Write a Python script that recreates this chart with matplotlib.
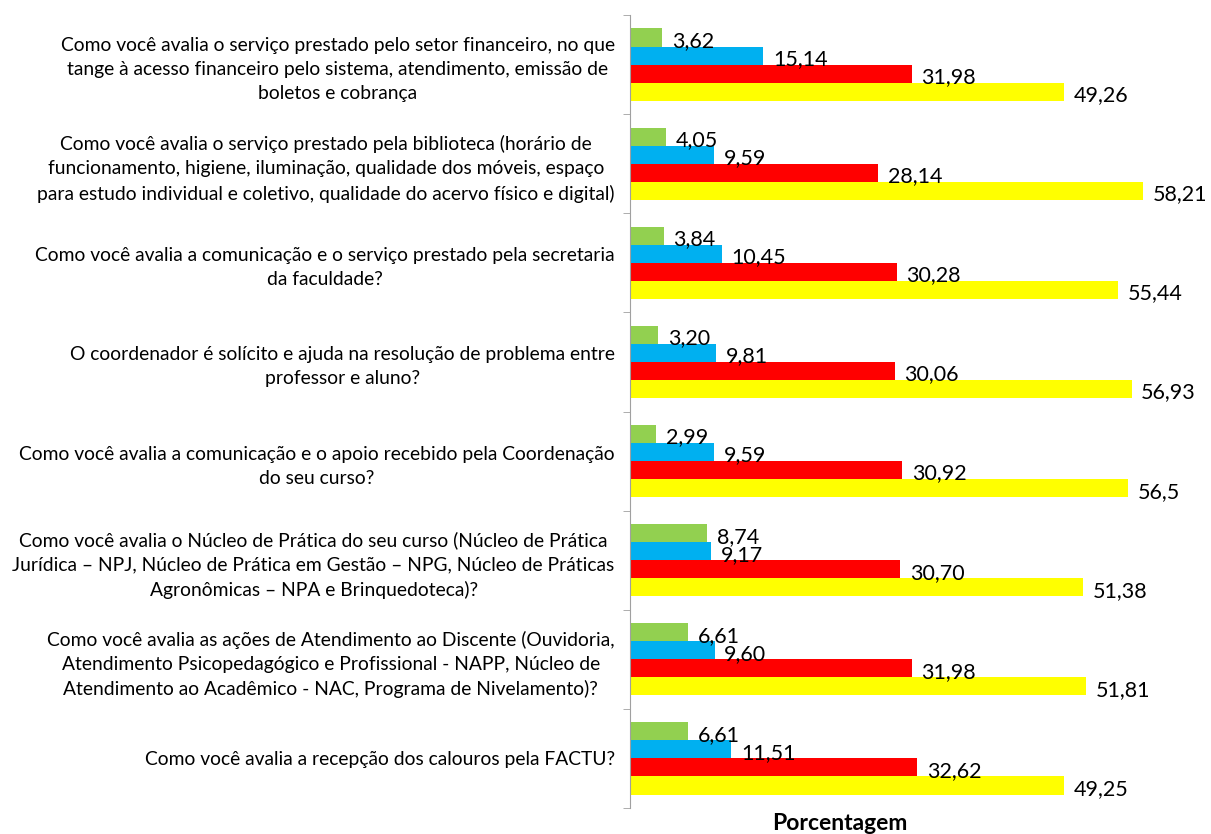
import matplotlib
matplotlib.use("Agg")
import matplotlib.pyplot as plt
import numpy as np

plt.rcParams['font.family'] = ['Lato', 'DejaVu Sans']

categories = [
    "Como você avalia o serviço prestado pelo setor financeiro, no que\ntange à acesso financeiro pelo sistema, atendimento, emissão de\nboletos e cobrança",
    "Como você avalia o serviço prestado pela biblioteca (horário de\nfuncionamento, higiene, iluminação, qualidade dos móveis, espaço\npara estudo individual e coletivo, qualidade do acervo físico e digital)",
    "Como você avalia a comunicação e o serviço prestado pela secretaria\nda faculdade?",
    "O coordenador é solícito e ajuda na resolução de problema entre\nprofessor e aluno?",
    "Como você avalia a comunicação e o apoio recebido pela Coordenação\ndo seu curso?",
    "Como você avalia o Núcleo de Prática do seu curso (Núcleo de Prática\nJurídica – NPJ, Núcleo de Prática em Gestão – NPG, Núcleo de Práticas\nAgronômicas – NPA e Brinquedoteca)?",
    "Como você avalia as ações de Atendimento ao Discente (Ouvidoria,\nAtendimento Psicopedagógico e Profissional - NAPP, Núcleo de\nAtendimento ao Acadêmico - NAC, Programa de Nivelamento)?",
    "Como você avalia a recepção dos calouros pela FACTU?",
]

green = [3.62, 4.05, 3.84, 3.20, 2.99, 8.74, 6.61, 6.61]
blue = [15.14, 9.59, 10.45, 9.81, 9.59, 9.17, 9.60, 11.51]
red = [31.98, 28.14, 30.28, 30.06, 30.92, 30.70, 31.98, 32.62]
yellow = [49.26, 58.21, 55.44, 56.93, 56.5, 51.38, 51.81, 49.25]

green_labels = ["3,62", "4,05", "3,84", "3,20", "2,99", "8,74", "6,61", "6,61"]
blue_labels = ["15,14", "9,59", "10,45", "9,81", "9,59", "9,17", "9,60", "11,51"]
red_labels = ["31,98", "28,14", "30,28", "30,06", "30,92", "30,70", "31,98", "32,62"]
yellow_labels = ["49,26", "58,21", "55,44", "56,93", "56,5", "51,38", "51,81", "49,25"]

series = [(green, green_labels, '#92D050'),
          (blue, blue_labels, '#00B0F0'),
          (red, red_labels, '#FF0000'),
          (yellow, yellow_labels, '#FFFF00')]

W, H = 1211, 834
fig = plt.figure(figsize=(W / 100, H / 100), dpi=100)
ax = fig.add_axes([630 / W, (H - 808) / H, (1211 - 630) / W, (808 - 15) / H])

n = len(categories)
centers = np.arange(n)
bh = 0.182
offsets = [-1.5, -0.5, 0.5, 1.5]
for (vals, labs, col), off in zip(series, offsets):
    ys = centers + off * bh
    ax.barh(ys, vals, height=bh, color=col, edgecolor='none')
    for y, v, l in zip(ys, vals, labs):
        ax.annotate(l, (v, y), xytext=(7, -2.5), textcoords='offset points',
                    ha='left', va='center', fontsize=15.5, color='black')

ax.set_ylim(n - 0.5, -0.5)
ax.set_xlim(0, 581 / 8.81)
ax.set_yticks(centers)
ax.set_yticklabels(categories, fontsize=13.9, multialignment='center', linespacing=1.5)
ax.tick_params(axis='y', which='major', length=0, pad=11)
ax.set_yticks(np.arange(n + 1) - 0.5, minor=True)
ax.tick_params(axis='y', which='minor', length=5, direction='out', color='#A0A0A0')
ax.set_xticks([])
for s in ['top', 'right', 'bottom']:
    ax.spines[s].set_visible(False)
ax.spines['left'].set_color('#A0A0A0')

fig.text(840 / W, 1 - 824 / H, "Porcentagem", ha='center', va='center',
         fontsize=16.5, fontweight='bold')

fig.savefig('out.png', dpi=100)
